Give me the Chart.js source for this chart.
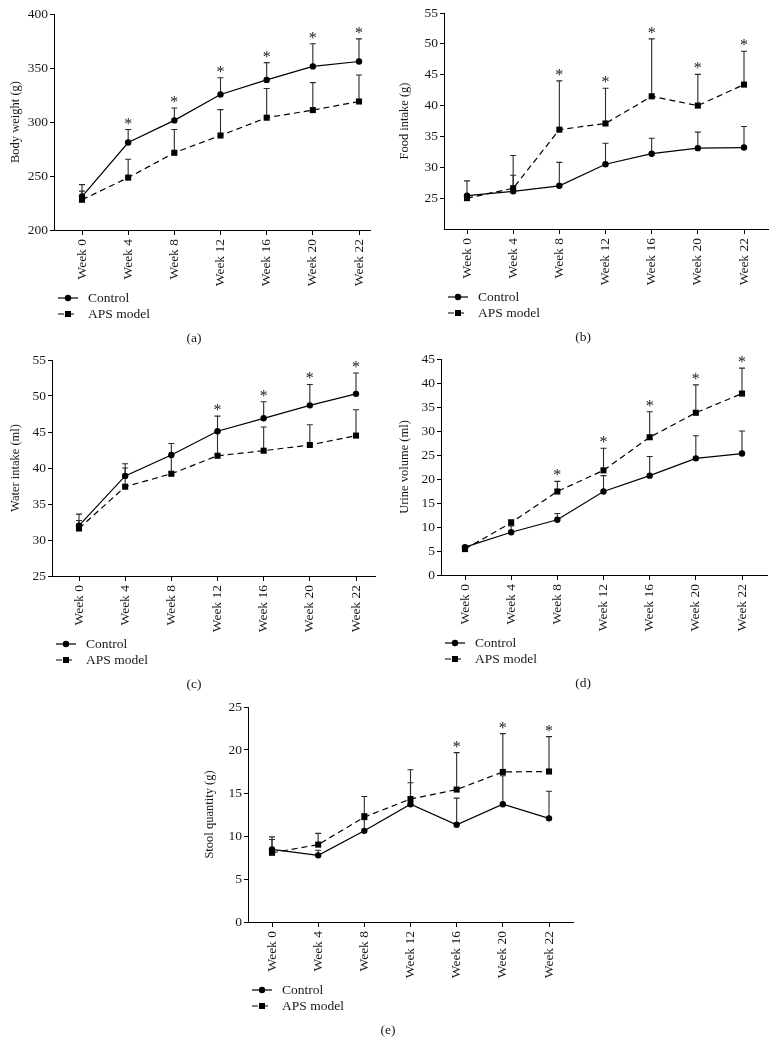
<!DOCTYPE html>
<html>
<head>
<meta charset="utf-8">
<script src="https://cdn.jsdelivr.net/npm/chart.js@4.4.1/dist/chart.umd.min.js"></script>
<style>
  body { margin: 0; background: #fff; width: 777px; height: 1055px; position: relative; overflow: hidden; }
  canvas { position: absolute; }
</style>
</head>
<body>
<canvas id="chartA" width="388" height="346" style="left:0;top:0"></canvas>
<canvas id="chartB" width="388" height="346" style="left:389px;top:0"></canvas>
<canvas id="chartC" width="388" height="346" style="left:0;top:346px"></canvas>
<canvas id="chartD" width="388" height="346" style="left:389px;top:346px"></canvas>
<canvas id="chartE" width="388" height="346" style="left:194px;top:692px"></canvas>
<script>
// categories
var weeks = ["Week 0", "Week 4", "Week 8", "Week 12", "Week 16", "Week 20", "Week 22"];
var seriesNames = ["Control", "APS model"];

// (a) body weight, g  (mean and upper error bar length)
var bodyControl   = [231, 281, 301.5, 325.5, 339, 351.5, 356];
var bodyControlSd = [11, 12, 11.5, 15.5, 16, 21, 21];
var bodyAps       = [228, 248.5, 271.5, 287.5, 304, 311, 319];
var bodyApsSd     = [8, 17, 21.5, 24, 27, 25.5, 24.5];
var bodySig       = [1, 2, 3, 4, 5, 6];

// (b) food intake, g
var foodControl   = [25.4, 26.1, 27.0, 30.5, 32.2, 33.1, 33.2];
var foodControlSd = [2.4, 2.6, 3.8, 3.4, 2.5, 2.6, 3.4];
var foodAps       = [25.0, 26.6, 36.1, 37.1, 41.5, 40.0, 43.4];
var foodApsSd     = [0.6, 5.3, 7.9, 5.7, 9.3, 5.05, 5.4];
var foodSig       = [2, 3, 4, 5, 6];

// (c) water intake, ml
var waterControl   = [32.0, 38.9, 41.8, 45.1, 46.9, 48.7, 50.3];
var waterControlSd = [1.6, 1.7, 1.6, 2.1, 2.3, 2.9, 2.9];
var waterAps       = [31.6, 37.4, 39.2, 41.7, 42.4, 43.2, 44.5];
var waterApsSd     = [1.1, 2.6, 2.6, 3.3, 3.3, 2.8, 3.6];
var waterSig       = [3, 4, 5, 6];

// (d) urine volume, ml
var urineControl   = [5.8, 8.9, 11.5, 17.4, 20.7, 24.3, 25.3];
var urineControlSd = [0.3, 1.3, 1.3, 3.3, 4.0, 4.7, 4.7];
var urineAps       = [5.4, 10.9, 17.4, 21.8, 28.7, 33.8, 37.8];
var urineApsSd     = [0.7, 0.6, 2.1, 4.6, 5.3, 5.8, 5.3];
var urineSig       = [2, 3, 4, 5, 6];

// (e) stool quantity, g
var stoolControl   = [8.45, 7.75, 10.6, 13.7, 11.3, 13.7, 12.05];
var stoolControlSd = [1.15, 0.6, 2.0, 2.5, 3.1, 3.3, 3.15];
var stoolAps       = [8.05, 9.0, 12.2, 14.3, 15.4, 17.45, 17.5];
var stoolApsSd     = [1.85, 1.3, 2.4, 3.4, 4.3, 4.45, 4.05];
var stoolSig       = [4, 5, 6];

// y tick values
var bodyTicks  = [200, 250, 300, 350, 400];
var foodTicks  = [25, 30, 35, 40, 45, 50, 55];
var waterTicks = [25, 30, 35, 40, 45, 50, 55];
var urineTicks = [0, 5, 10, 15, 20, 25, 30, 35, 40, 45];
var stoolTicks = [0, 5, 10, 15, 20, 25];

var FONT = '"Liberation Serif", "Times New Roman", serif';
var INK = '#1a1718';

var panels = [
  { id: 'chartA', letter: '(a)', title: 'Body weight (g)', control: bodyControl, controlSd: bodyControlSd,
    aps: bodyAps, apsSd: bodyApsSd, sig: bodySig, ticks: bodyTicks, min: 200, max: 400,
    axisX: 54, top: 14, bottom: 230, right: 370, w0: 82, w22: 359 },
  { id: 'chartB', letter: '(b)', title: 'Food intake (g)', control: foodControl, controlSd: foodControlSd,
    aps: foodAps, apsSd: foodApsSd, sig: foodSig, ticks: foodTicks, min: 20, max: 55,
    axisX: 55, top: 13, bottom: 229, right: 379, w0: 78, w22: 355 },
  { id: 'chartC', letter: '(c)', title: 'Water intake (ml)', control: waterControl, controlSd: waterControlSd,
    aps: waterAps, apsSd: waterApsSd, sig: waterSig, ticks: waterTicks, min: 25, max: 55,
    axisX: 52, top: 14, bottom: 230, right: 375, w0: 79, w22: 356 },
  { id: 'chartD', letter: '(d)', title: 'Urine volume (ml)', control: urineControl, controlSd: urineControlSd,
    aps: urineAps, apsSd: urineApsSd, sig: urineSig, ticks: urineTicks, min: 0, max: 45,
    axisX: 52, top: 13, bottom: 229, right: 378, w0: 76, w22: 353 },
  { id: 'chartE', letter: '(e)', title: 'Stool quantity (g)', control: stoolControl, controlSd: stoolControlSd,
    aps: stoolAps, apsSd: stoolApsSd, sig: stoolSig, ticks: stoolTicks, min: 0, max: 25,
    axisX: 54, top: 15, bottom: 230, right: 379, w0: 78, w22: 355 }
];

// error bars, asterisks, legend and panel letter
function makeExtras(p) {
  return {
    id: 'extras',
    beforeDatasetsDraw: function (chart) {
      var ctx = chart.ctx;
      var ys = chart.scales.y;
      var sds = [p.controlSd, p.apsSd];
      ctx.save();
      ctx.strokeStyle = '#2a2a2a';
      ctx.lineWidth = 1.1;
      chart.data.datasets.forEach(function (ds, i) {
        var meta = chart.getDatasetMeta(i);
        meta.data.forEach(function (pt, j) {
          var yTop = ys.getPixelForValue(ds.data[j].y + sds[i][j]);
          ctx.beginPath();
          ctx.moveTo(pt.x, pt.y);
          ctx.lineTo(pt.x, yTop);
          ctx.moveTo(pt.x - 3, yTop);
          ctx.lineTo(pt.x + 3, yTop);
          ctx.stroke();
        });
      });
      ctx.restore();
    },
    afterDatasetsDraw: function (chart) {
      var ctx = chart.ctx;
      var ys = chart.scales.y;
      var xs = chart.scales.x;
      ctx.save();
      ctx.fillStyle = INK;
      ctx.font = '16px ' + FONT;
      ctx.textAlign = 'center';
      ctx.textBaseline = 'alphabetic';
      p.sig.forEach(function (j) {
        var top = Math.max(p.control[j] + p.controlSd[j], p.aps[j] + p.apsSd[j]);
        ctx.fillText('*', xs.getPixelForValue(j), ys.getPixelForValue(top) - 1);
      });
      ctx.restore();
    },
    afterDraw: function (chart) {
      var ctx = chart.ctx;
      var L = chart.chartArea.left, B = chart.chartArea.bottom;
      ctx.save();
      ctx.strokeStyle = '#000';
      ctx.fillStyle = '#000';
      ctx.lineWidth = 1.2;
      chart.data.datasets.forEach(function (ds, i) {
        var y = B + 68 + i * 16;
        ctx.setLineDash(ds.borderDash || []);
        ctx.beginPath();
        ctx.moveTo(L + 4, y);
        ctx.lineTo(L + 24, y);
        ctx.stroke();
        ctx.setLineDash([]);
        if (ds.pointStyle === 'rect') {
          ctx.fillRect(L + 11, y - 3, 6, 6);
        } else {
          ctx.beginPath();
          ctx.arc(L + 14, y, 3.2, 0, Math.PI * 2);
          ctx.fill();
        }
        ctx.fillStyle = INK;
        ctx.font = '13.5px ' + FONT;
        ctx.textAlign = 'left';
        ctx.textBaseline = 'middle';
        ctx.fillText(ds.label, L + 34, y);
        ctx.fillStyle = '#000';
      });
      ctx.fillStyle = INK;
      ctx.font = '13.5px ' + FONT;
      ctx.textAlign = 'center';
      ctx.textBaseline = 'middle';
      ctx.fillText(p.letter, chart.width / 2, B + 108);
      ctx.restore();
    }
  };
}

panels.forEach(function (p) {
  var step = (p.w22 - p.w0) / (weeks.length - 1);
  var xMin = -(p.w0 - p.axisX) / step;
  var xMax = (weeks.length - 1) + (p.right - p.w22) / step;
  var ctx = document.getElementById(p.id).getContext('2d');
  new Chart(ctx, {
    type: 'line',
    data: {
      datasets: [{
        label: seriesNames[0],
        data: p.control.map(function (v, i) { return { x: i, y: v }; }),
        borderColor: '#000',
        backgroundColor: '#000',
        borderWidth: 1.2,
        pointStyle: 'circle',
        pointRadius: 3.2,
        pointBorderWidth: 0,
        tension: 0
      }, {
        label: seriesNames[1],
        data: p.aps.map(function (v, i) { return { x: i, y: v }; }),
        borderColor: '#000',
        backgroundColor: '#000',
        borderWidth: 1.2,
        borderDash: [6, 4],
        pointStyle: 'rect',
        pointRadius: 4.3,
        pointBorderWidth: 0,
        tension: 0
      }]
    },
    options: {
      responsive: false,
      animation: false,
      layout: { padding: { left: 0, top: p.top, right: 388 - p.right, bottom: 346 - p.bottom - 60 } },
      plugins: { legend: { display: false }, tooltip: { enabled: false } },
      scales: {
        x: {
          type: 'linear',
          min: xMin,
          max: xMax,
          afterBuildTicks: function (scale) {
            scale.ticks = weeks.map(function (w, i) { return { value: i }; });
          },
          afterFit: function (scale) { scale.height = 60; },
          ticks: {
            autoSkip: false,
            minRotation: 90,
            maxRotation: 90,
            padding: 4,
            color: INK,
            font: { family: FONT, size: 13.5 },
            callback: function (v) { return weeks[v]; }
          },
          grid: { drawOnChartArea: false, drawTicks: true, tickLength: 5, color: '#000' },
          border: { display: true, color: '#000', width: 1 }
        },
        y: {
          min: p.min,
          max: p.max,
          afterBuildTicks: function (scale) {
            scale.ticks = p.ticks.map(function (v) { return { value: v }; });
          },
          afterFit: function (scale) { scale.width = p.axisX; },
          ticks: { padding: 2, color: INK, font: { family: FONT, size: 13.5 } },
          grid: { drawOnChartArea: false, drawTicks: true, tickLength: 4, color: '#000' },
          border: { display: true, color: '#000', width: 1 },
          title: { display: true, text: p.title, color: INK, font: { family: FONT, size: 12.5 }, padding: { top: 8, bottom: 0 } }
        }
      }
    },
    plugins: [makeExtras(p)]
  });
});
</script>
</body>
</html>
